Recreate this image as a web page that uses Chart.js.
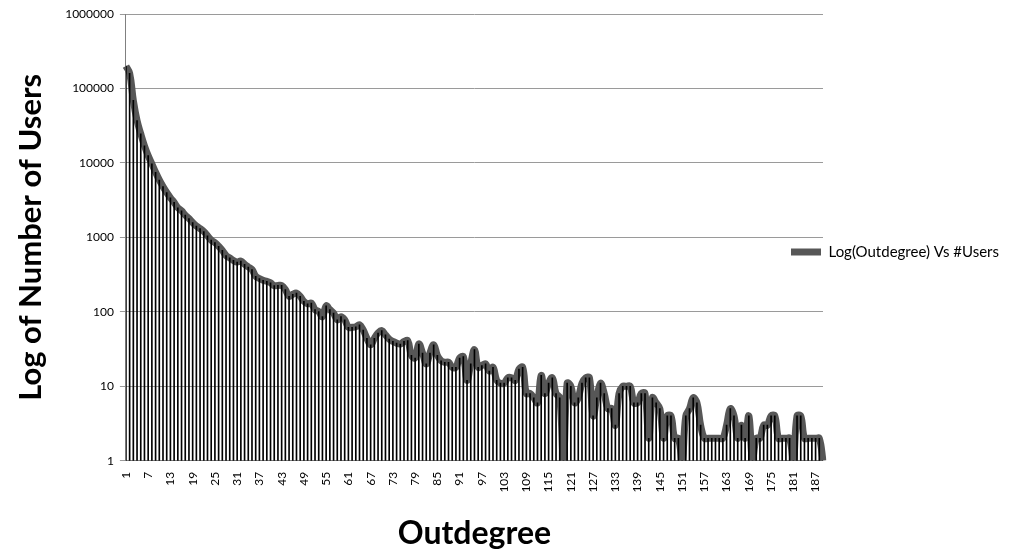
<!DOCTYPE html>
<html>
<head>
<meta charset="utf-8">
<script src="https://cdn.jsdelivr.net/npm/chart.js@4/dist/chart.umd.min.js"></script>
<style>
  body { margin: 0; background: #fff; }
  #wrap { width: 1012px; height: 550px; }
</style>
</head>
<body>
<div id="wrap"><canvas id="grafico" width="1012" height="550"></canvas></div>
<script>
// outdegree 1..189
const outdegree = [];
for (let i = 1; i <= 189; i++) outdegree.push(i);

// number of users per outdegree
const users = [
  200000, 160000, 69000, 37000, 24600, 17000, 12500, 9700, 7500, 5900,
  4800, 4000, 3400, 2950, 2500, 2270, 1990, 1790, 1580, 1420,
  1310, 1200, 1050, 920, 850, 760, 670, 570, 530, 490,
  465, 480, 435, 400, 370, 300, 280, 265, 257, 245,
  225, 226, 226, 199, 161, 172, 178, 161, 138, 128,
  131, 107, 101, 86, 120, 107, 96, 78, 86, 78,
  62, 62, 63, 67, 57, 44, 36, 44, 52, 56,
  49, 43, 40, 38, 37, 40, 41, 26, 24, 37,
  28, 20, 28, 36, 26, 22, 21, 21, 18, 18,
  24, 25, 12, 20, 31, 18, 19, 20, 16, 18,
  12, 11, 11, 13, 13, 12, 17, 18, 8, 8,
  7, 6, 14, 8, 11, 13, 8, 7, 1, 11,
  10, 6, 7, 11, 13, 13, 4, 7, 11, 8,
  5, 5, 3, 8, 10, 10, 10, 6, 6, 8,
  8, 2, 7, 6, 5, 2, 4, 4, 2, 2,
  1, 4, 5, 7, 6, 3, 2, 2, 2, 2,
  2, 2, 3, 5, 4, 2, 3, 2, 4, 1,
  2, 2, 3, 3, 4, 4, 2, 2, 2, 2,
  1, 4, 4, 2, 2, 2, 2, 2, 1
];

const xTickLabels = [1, 7, 13, 19, 25, 31, 37, 43, 49, 55, 61, 67, 73, 79, 85, 91,
  97, 103, 109, 115, 121, 127, 133, 139, 145, 151, 157, 163, 169, 175, 181, 187];
const yTicks = [1, 10, 100, 1000, 10000, 100000, 1000000];

// the legend sits half over the plot edge, like the original
const legendShift = {
  id: 'legendShift',
  afterLayout(chart) {
    const lg = chart.legend;
    lg.left -= 42; lg.right -= 42;
    lg.top -= 30; lg.bottom -= 30;
  }
};

const ctx = document.getElementById('grafico');

new Chart(ctx, {
  type: 'line',
  data: {
    labels: outdegree,
    datasets: [
      {
        // thin drop lines from each point to the axis
        type: 'bar',
        label: 'drop',
        data: users,
        backgroundColor: '#000000',
        barThickness: 1,
        order: 0
      },
      {
        type: 'line',
        label: 'Log(Outdegree) Vs #Users',
        data: users,
        borderColor: '#575757',
        backgroundColor: '#575757',
        borderWidth: 7,
        pointRadius: 0,
        tension: 0.4,
        order: 1
      }
    ]
  },
  options: {
    responsive: false,
    animation: false,
    layout: { padding: { left: 12, top: 14, right: -39, bottom: 0 } },
    plugins: {
      tooltip: { enabled: false },
      legend: {
        position: 'right',
        labels: {
          filter: item => item.datasetIndex === 1,
          usePointStyle: true,
          pointStyle: 'line',
          pointStyleWidth: 30,
          color: '#000',
          font: { family: 'Lato', size: 15 }
        }
      }
    },
    scales: {
      x: {
        offset: false,
        grid: { display: false, offset: false },
        border: { color: '#808080' },
        ticks: {
          autoSkip: false,
          maxRotation: 90,
          minRotation: 90,
          color: '#000',
          font: { family: 'Lato', size: 12 },
          callback: function (v, i) {
            const lab = outdegree[i];
            return xTickLabels.includes(lab) ? String(lab) : null;
          }
        },
        title: {
          display: true,
          text: 'Outdegree',
          color: '#000',
          font: { family: 'Lato', size: 32, weight: 'bold' },
          padding: { top: 19, bottom: -3 }
        }
      },
      y: {
        type: 'logarithmic',
        min: 1,
        max: 1000000,
        afterBuildTicks: s => { s.ticks = yTicks.map(v => ({ value: v })); },
        grid: { color: '#9a9a9a', tickLength: 6 },
        border: { color: '#808080' },
        ticks: {
          color: '#000',
          font: { family: 'Lato', size: 12 },
          padding: 6,
          callback: v => String(v)
        },
        title: {
          display: true,
          text: 'Log of Number of Users',
          color: '#000',
          font: { family: 'Lato', size: 31, weight: 'bold' },
          padding: { top: 0, bottom: 10 }
        }
      }
    }
  },
  plugins: [legendShift]
});
</script>
</body>
</html>
